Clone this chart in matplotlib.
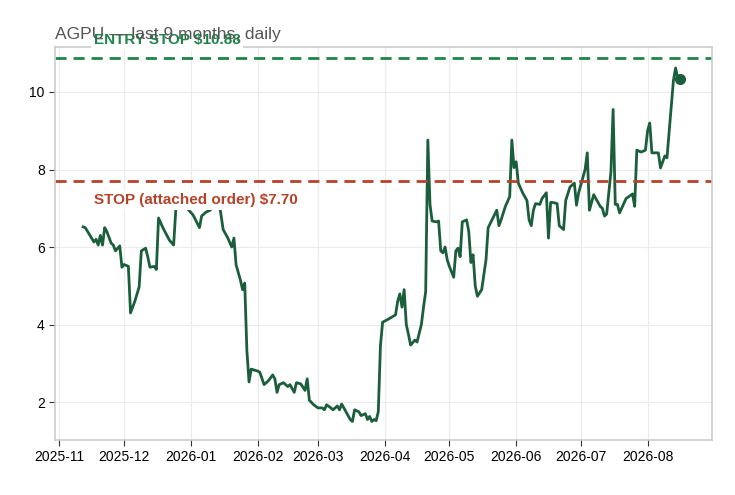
import matplotlib
matplotlib.use("Agg")
import matplotlib.pyplot as plt
import matplotlib.dates as mdates
import numpy as np

plt.rcParams["font.family"] = ["Liberation Sans", "DejaVu Sans"]

start = np.datetime64("2025-11-01")
# days since 2025-11-01, closing price
days = [11, 12, 16, 17, 18, 19, 20, 21, 22, 24, 25, 26, 28, 29, 30, 32, 33, 35, 37, 38,
        40, 41, 42, 44, 45, 46, 48, 51, 53, 54, 55, 58, 60, 62, 65, 66, 68, 70, 72, 74,
        76, 78, 80, 81, 82, 84, 85, 86, 87, 88, 89, 92, 93, 95, 97, 99, 100, 101, 102, 104,
        106, 107, 109, 110, 112, 114, 115, 116, 118, 120, 122, 123, 124, 126, 127, 129, 130, 131, 133, 135,
        136, 137, 139, 140, 142, 143, 144, 145, 146, 147, 148, 149, 150, 153, 156, 157, 158, 159, 160, 161,
        162, 163, 165, 166, 168, 169, 170, 171, 172, 173, 175, 176, 177, 178, 179, 180, 181, 183, 184, 185,
        186, 187, 189, 190, 191, 192, 193, 194, 196, 198, 199, 203, 204, 205, 207, 209, 210, 211, 212, 213,
        215, 217, 218, 219, 220, 221, 223, 224, 226, 227, 228, 229, 231, 232, 233, 234, 235, 237, 239, 240,
        241, 244, 245, 246, 248, 250, 251, 252, 253, 254, 256, 257, 258, 259, 260, 263, 266, 267, 268, 270,
        272, 273, 274, 275, 277, 278, 279, 281, 282, 285, 286, 287, 288]
close = [6.52, 6.50, 6.13, 6.2, 6.05, 6.3, 6.05, 6.5, 6.4, 6.1, 6.05, 5.9, 6.03, 5.48, 5.55, 5.5, 4.3, 4.6, 4.97, 5.9,
         5.97, 5.75, 5.48, 5.5, 5.42, 6.75, 6.5, 6.18, 6.05, 6.95, 7.34, 7.2, 6.95, 6.83, 6.5, 6.8, 6.9, 6.95, 7.1, 7.2,
         6.45, 6.25, 6.0, 6.23, 5.54, 5.15, 4.9, 5.07, 3.34, 2.52, 2.85, 2.8, 2.77, 2.45, 2.55, 2.7, 2.6, 2.25, 2.45, 2.5,
         2.4, 2.45, 2.25, 2.5, 2.47, 2.3, 2.6, 2.05, 1.93, 1.85, 1.85, 1.8, 1.93, 1.85, 1.8, 1.9, 1.8, 1.95, 1.75, 1.55,
         1.5, 1.8, 1.75, 1.65, 1.7, 1.55, 1.63, 1.5, 1.55, 1.52, 1.75, 3.45, 4.06, 4.15, 4.25, 4.6, 4.79, 4.45, 4.9, 4.0,
         3.75, 3.47, 3.6, 3.55, 4.0, 4.45, 4.85, 8.76, 7.1, 6.67, 6.65, 6.67, 5.9, 5.85, 6.0, 5.67, 5.5, 5.22, 5.9, 5.97,
         5.75, 6.65, 6.7, 6.4, 5.6, 5.8, 5.0, 4.73, 4.9, 5.67, 6.5, 6.95, 6.55, 6.7, 7.05, 7.3, 8.76, 8.05, 8.2, 7.65,
         7.4, 7.2, 6.7, 6.55, 6.95, 7.12, 7.1, 7.25, 7.4, 6.23, 7.15, 7.15, 7.12, 6.55, 6.5, 6.45, 7.2, 7.55, 7.65, 7.08,
         7.4, 8.0, 8.43, 6.95, 7.35, 7.15, 7.05, 7.0, 6.8, 6.85, 7.95, 9.55, 7.1, 7.1, 6.88, 7.25, 7.37, 7.05, 8.5, 8.45,
         8.5, 9.0, 9.2, 8.43, 8.43, 8.43, 8.04, 8.35, 8.3, 10.3, 10.62, 10.35, 10.33]

entry_stop = 10.88
attached_stop = 7.70

dates = (start + np.array(days, dtype="timedelta64[D]")).astype("datetime64[ms]").astype(object)

fig = plt.figure(figsize=(7.35, 4.95), dpi=100)
ax = fig.add_axes([0.075, 0.111, 0.894, 0.794])

ax.plot(dates, close, color="#1b5e3b", lw=2)
ax.plot(dates[-1], close[-1], "o", color="#1b5e3b", ms=7)

ax.axhline(entry_stop, color="#1e8449", lw=2, ls=(0, (4, 2.5)))
ax.axhline(attached_stop, color="#b5432a", lw=2, ls=(0, (4, 2.5)))

lbl_x = np.datetime64("2025-11-17").astype("datetime64[ms]").astype(object)
ax.text(lbl_x, entry_stop + 0.28, f"ENTRY STOP ${entry_stop:.2f}", color="#1e8449",
        fontsize=11, fontweight="bold", va="bottom",
        bbox=dict(facecolor="white", edgecolor="none", pad=2))
ax.text(lbl_x, attached_stop - 0.3, f"STOP (attached order) ${attached_stop:.2f}", color="#b5432a",
        fontsize=11, fontweight="bold", va="top",
        bbox=dict(facecolor="white", edgecolor="none", pad=2))

ax.set_title("AGPU — last 9 months, daily", loc="left", color="#555555", fontsize=12.5, pad=6)

ax.set_ylim(1.02, 11.16)
ax.set_xlim(np.datetime64("2025-10-30").astype(object), np.datetime64("2026-08-31").astype(object))
ax.set_yticks([2, 4, 6, 8, 10])
ax.xaxis.set_major_locator(mdates.MonthLocator())
ax.xaxis.set_major_formatter(mdates.DateFormatter("%Y-%m"))
ax.grid(True, color="#ebebeb", lw=0.8)
ax.set_axisbelow(True)
for s in ax.spines.values():
    s.set_color("#cccccc")
    s.set_linewidth(1.2)
ax.tick_params(labelsize=10, color="#333333", length=4)

fig.savefig("out.png", dpi=100)
